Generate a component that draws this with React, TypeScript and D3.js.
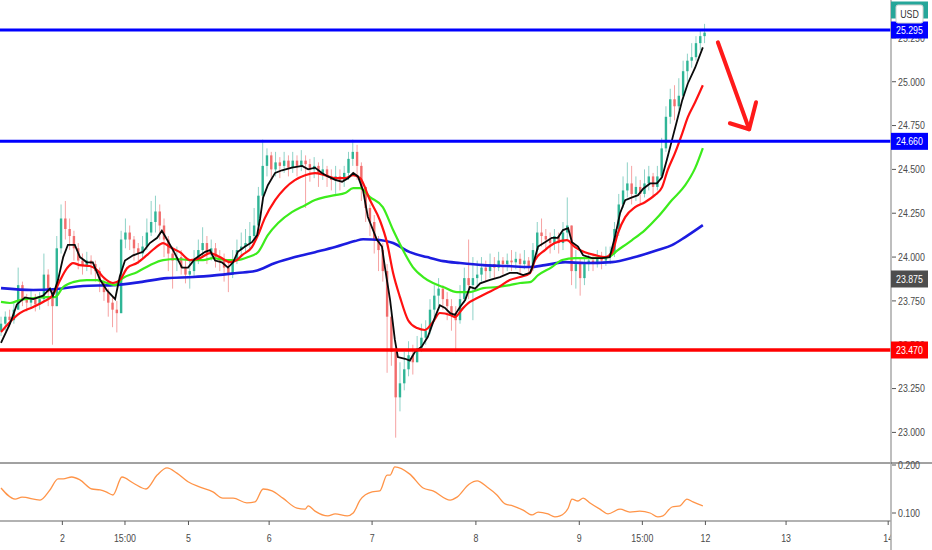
import React from "react";
import * as d3 from "d3";

// ---------- DATA ----------
const firstOpen = 23.58;
const closes = [
  23.62, 23.66, 23.64, 23.70, 23.84, 23.76, 23.74, 23.77, 23.73, 23.76,
  23.90, 23.80, 23.72, 24.05, 24.22, 24.16, 24.12, 24.05, 23.98, 23.95,
  23.98, 23.96, 23.92, 23.86, 23.80, 23.74, 23.70, 23.68, 24.10, 24.14,
  24.10, 24.05, 24.02, 24.06, 24.14, 24.20, 24.26, 24.18, 24.10, 24.02,
  23.98, 24.00, 23.94, 23.90, 23.92, 23.98, 24.04, 24.08, 24.02, 24.05,
  24.00, 23.98, 23.94, 23.90, 23.98, 24.04, 24.06, 24.08, 24.12, 24.18,
  24.35, 24.52, 24.58, 24.50, 24.54, 24.52, 24.55, 24.51, 24.55, 24.52,
  24.55, 24.53, 24.50, 24.52, 24.48, 24.50, 24.46, 24.44, 24.46, 24.44,
  24.48, 24.56, 24.60, 24.52, 24.40, 24.28, 24.20, 24.10, 24.04, 23.92,
  23.66, 23.46, 23.20, 23.28, 23.36, 23.44, 23.40, 23.48, 23.54, 23.58,
  23.70, 23.78, 23.82, 23.76, 23.72, 23.68, 23.64, 23.76, 23.88, 23.84,
  23.88, 23.90, 23.94, 23.92, 23.96, 23.94, 23.98, 23.96, 23.98, 23.97,
  23.99, 23.96, 23.98, 23.94, 24.04, 24.14, 24.12, 24.10, 24.08, 24.12,
  24.08, 24.14, 24.18, 23.92, 23.96, 23.88, 23.96, 23.98, 23.96, 24.00,
  23.98, 24.00, 24.02, 24.16, 24.30, 24.38, 24.42, 24.36, 24.40, 24.36,
  24.42, 24.46, 24.40, 24.46, 24.62, 24.80, 24.90, 24.86, 24.92, 25.06,
  25.12, 25.14, 25.22, 25.26, 25.28,
];
const highs = [
  23.66, 23.69, 23.70, 23.74, 23.94, 23.86, 23.79, 23.81, 23.79, 23.80,
  24.02, 23.93, 23.82, 24.12, 24.30, 24.32, 24.22, 24.15, 24.08, 24.02,
  24.03, 24.01, 23.98, 23.94, 23.88, 23.82, 23.78, 23.75, 24.15, 24.22,
  24.18, 24.12, 24.08, 24.12, 24.22, 24.32, 24.35, 24.30, 24.22, 24.12,
  24.06, 24.06, 24.04, 23.98, 23.98, 24.04, 24.10, 24.17, 24.12, 24.10,
  24.08, 24.04, 24.02, 23.98, 24.04, 24.10, 24.14, 24.16, 24.20, 24.28,
  24.40, 24.67, 24.62, 24.60, 24.60, 24.57, 24.60, 24.58, 24.60, 24.58,
  24.61, 24.58, 24.56, 24.57, 24.54, 24.56, 24.52, 24.50, 24.52, 24.50,
  24.52, 24.60, 24.67, 24.64, 24.54, 24.40, 24.30, 24.24, 24.12, 24.08,
  23.96, 23.68, 23.48, 23.40, 23.46, 23.52, 23.50, 23.55, 23.62, 23.64,
  23.76, 23.84, 23.88, 23.84, 23.80, 23.76, 23.72, 23.84, 23.94, 24.10,
  24.00, 23.98, 24.00, 23.98, 24.02, 24.00, 24.03, 24.00, 24.02, 24.04,
  24.03, 24.02, 24.04, 24.00, 24.08, 24.20, 24.22, 24.16, 24.14, 24.16,
  24.14, 24.20, 24.34, 24.18, 24.04, 24.00, 24.00, 24.02, 24.01, 24.04,
  24.03, 24.06, 24.06, 24.20, 24.36, 24.46, 24.54, 24.52, 24.46, 24.44,
  24.50, 24.52, 24.48, 24.52, 24.68, 24.86, 24.96, 24.98, 25.02, 25.12,
  25.16, 25.22, 25.26, 25.30, 25.33,
];
const lows = [
  23.55, 23.58, 23.60, 23.62, 23.70, 23.72, 23.69, 23.71, 23.69, 23.70,
  23.74, 23.72, 23.50, 23.72, 24.02, 24.10, 24.04, 23.98, 23.93, 23.90,
  23.92, 23.90, 23.86, 23.80, 23.75, 23.66, 23.60, 23.57, 23.68, 24.05,
  24.04, 23.98, 23.96, 23.99, 24.04, 24.12, 24.14, 24.10, 24.00, 23.92,
  23.82, 23.92, 23.90, 23.85, 23.82, 23.88, 23.96, 24.00, 23.96, 23.98,
  23.94, 23.92, 23.86, 23.80, 23.88, 23.96, 24.00, 24.02, 24.04, 24.08,
  24.16, 24.30, 24.46, 24.44, 24.46, 24.45, 24.48, 24.46, 24.48, 24.46,
  24.49, 24.28, 24.43, 24.45, 24.40, 24.44, 24.40, 24.38, 24.36, 24.38,
  24.40, 24.44, 24.52, 24.44, 24.32, 24.20, 24.12, 24.02, 23.92, 23.86,
  23.34, 23.38, 22.97, 23.12, 23.24, 23.32, 23.33, 23.40, 23.46, 23.50,
  23.56, 23.66, 23.72, 23.70, 23.64, 23.58, 23.46, 23.62, 23.74, 23.76,
  23.64, 23.82, 23.86, 23.86, 23.88, 23.88, 23.92, 23.90, 23.92, 23.92,
  23.93, 23.90, 23.93, 23.90, 23.92, 24.00, 24.06, 24.04, 24.02, 24.04,
  24.02, 24.04, 24.10, 23.84, 23.82, 23.78, 23.84, 23.92, 23.92, 23.94,
  23.93, 23.95, 23.96, 24.00, 24.12, 24.28, 24.34, 24.30, 24.32, 24.30,
  24.34, 24.38, 24.34, 24.38, 24.44, 24.60, 24.76, 24.78, 24.84, 24.90,
  25.00, 25.08, 25.12, 25.18, 25.22,
];

// moving averages as [bar index, value]
const fastMA: [number, number][] = [
  [0, 23.51], [2.1, 23.62], [3.7, 23.73], [5.6, 23.77], [7.5, 23.76], [9.8, 23.78], [11.4, 23.82], [12.1, 23.78],
  [13.3, 23.87], [14.5, 24.0], [15.6, 24.07], [17.2, 24.07], [18.4, 24.0], [20.0, 23.97], [21.4, 23.97], [23.1, 23.87],
  [24.7, 23.81], [26.6, 23.76], [27.7, 23.89], [28.9, 23.98], [30.8, 24.01], [33.1, 24.03], [34.7, 24.08], [36.4, 24.11],
  [37.5, 24.15], [38.7, 24.1], [40.1, 24.04], [42.2, 23.94], [43.6, 23.94], [45.2, 23.99], [47.6, 24.03], [48.7, 24.04],
  [49.9, 23.98], [51.5, 23.97], [52.9, 23.94], [54.1, 23.97], [55.2, 24.03], [56.9, 24.06], [58.5, 24.085], [59.7, 24.125],
  [60.4, 24.22], [61.1, 24.34], [62.2, 24.41], [63.9, 24.48], [65.5, 24.495], [67.8, 24.51], [70.2, 24.52], [71.6, 24.5],
  [73.2, 24.51], [74.8, 24.48], [76.2, 24.46], [77.9, 24.44], [79.5, 24.43], [80.9, 24.45], [82.1, 24.48], [83.2, 24.46],
  [84.4, 24.38], [85.5, 24.23], [87.6, 24.1], [88.8, 24.06], [89.5, 23.94], [90.7, 23.755], [91.8, 23.53], [92.5, 23.43],
  [94.2, 23.42], [95.3, 23.41], [96.5, 23.46], [98.1, 23.49], [99.5, 23.545], [101.2, 23.66], [102.3, 23.725], [103.5, 23.71],
  [104.7, 23.68], [105.8, 23.67], [107.0, 23.715], [108.2, 23.755], [109.3, 23.83], [110.5, 23.82], [111.7, 23.85], [114.0, 23.87],
  [116.3, 23.886], [118.6, 23.91], [120.3, 23.91], [121.7, 23.897], [123.3, 23.91], [123.8, 23.94], [125.2, 24.06], [126.8, 24.085],
  [128.4, 24.11], [129.8, 24.11], [131.0, 24.154], [132.2, 24.165], [133.1, 24.085], [134.5, 24.06], [135.7, 24.01], [137.8, 23.994],
  [140.1, 23.994], [141.9, 24.0], [143.1, 24.114], [144.3, 24.25], [145.5, 24.325], [147.1, 24.34], [148.5, 24.353], [149.7, 24.39],
  [151.3, 24.42], [152.9, 24.42], [154.1, 24.456], [155.2, 24.553], [156.4, 24.667], [157.6, 24.78], [158.8, 24.895], [160.1, 24.99],
  [161.8, 25.08], [163.6, 25.196],
];
const midMA: [number, number][] = [
  [0, 23.573], [2.1, 23.63], [4.4, 23.68], [7.5, 23.715], [9.8, 23.744], [12.1, 23.783], [13.8, 23.869], [15.4, 23.937],
  [16.8, 23.966], [18.4, 23.954], [20.7, 23.949], [22.4, 23.926], [23.8, 23.886], [26.1, 23.852], [27.7, 23.869], [29.4, 23.937],
  [31.7, 23.966], [34.0, 24.011], [35.9, 24.051], [37.8, 24.08], [39.4, 24.057], [41.7, 24.028], [44.1, 23.983], [46.4, 23.994],
  [48.7, 24.023], [51.0, 24.0], [53.4, 23.971], [55.0, 23.983], [56.2, 24.011], [58.5, 24.057], [59.9, 24.125], [61.5, 24.222],
  [63.9, 24.325], [66.2, 24.393], [68.5, 24.439], [70.9, 24.467], [73.2, 24.479], [75.5, 24.467], [77.9, 24.45], [80.2, 24.45],
  [82.1, 24.467], [83.7, 24.45], [86.0, 24.325], [88.3, 24.211], [90.0, 24.08], [91.4, 23.909], [93.0, 23.772], [94.9, 23.64],
  [97.0, 23.595], [98.8, 23.584], [100.7, 23.63], [102.3, 23.681], [104.7, 23.67], [105.8, 23.658], [107.7, 23.709], [109.3, 23.744],
  [111.0, 23.766], [113.3, 23.795], [115.6, 23.823], [118.6, 23.869], [121.0, 23.886], [123.3, 23.909], [124.5, 23.983], [126.8, 24.04],
  [129.1, 24.08], [131.9, 24.097], [133.8, 24.057], [136.1, 24.028], [138.5, 24.011], [140.8, 24.0], [142.4, 24.023], [143.8, 24.137],
  [145.5, 24.228], [147.8, 24.285], [150.1, 24.313], [152.4, 24.353], [154.1, 24.399], [155.4, 24.496], [157.1, 24.593], [158.8, 24.706],
  [160.1, 24.798], [161.8, 24.883], [163.6, 24.98],
];
const slowMA: [number, number][] = [
  [0, 23.744], [2.1, 23.738], [4.4, 23.755], [7.5, 23.766], [10.7, 23.772], [12.6, 23.772], [14.5, 23.829], [16.8, 23.857],
  [20.0, 23.869], [22.4, 23.869], [24.7, 23.852], [26.6, 23.84], [28.4, 23.88], [31.7, 23.914], [34.7, 23.954], [37.8, 23.983],
  [41.0, 23.989], [44.1, 23.983], [47.1, 23.983], [49.4, 23.994], [52.7, 23.983], [55.0, 23.983], [57.6, 24.0], [59.9, 24.028],
  [62.2, 24.125], [64.6, 24.194], [67.8, 24.256], [70.9, 24.296], [73.2, 24.325], [75.5, 24.342], [77.9, 24.353], [80.2, 24.365],
  [82.1, 24.393], [83.7, 24.393], [86.0, 24.342], [89.0, 24.285], [91.4, 24.154], [93.7, 24.04], [96.0, 23.943], [98.4, 23.886],
  [100.7, 23.852], [103.1, 23.829], [106.3, 23.8], [109.3, 23.8], [112.4, 23.823], [115.6, 23.829], [118.6, 23.84], [121.0, 23.852],
  [123.3, 23.857], [125.2, 23.897], [128.4, 23.943], [130.8, 23.983], [133.8, 23.994], [137.8, 23.994], [141.5, 24.0], [143.8, 24.04],
  [147.1, 24.097], [150.1, 24.154], [153.1, 24.228], [156.4, 24.325], [159.5, 24.41], [161.8, 24.507], [163.6, 24.621],
];
const longMA: [number, number][] = [
  [0, 23.823], [7.5, 23.812], [13.1, 23.818], [19.1, 23.835], [26.1, 23.84], [32.4, 23.857], [38.7, 23.88], [44.8, 23.886],
  [50.3, 23.897], [55.0, 23.909], [59.2, 23.92], [63.9, 23.966], [68.5, 24.0], [73.2, 24.028], [77.9, 24.057], [82.5, 24.091],
  [84.4, 24.102], [88.3, 24.097], [91.4, 24.08], [95.3, 24.028], [99.3, 24.0], [103.1, 23.977], [107.0, 23.966], [112.4, 23.954],
  [117.9, 23.949], [123.3, 23.943], [126.8, 23.954], [131.5, 23.971], [136.1, 23.966], [142.4, 23.971], [147.8, 24.0], [153.1, 24.04],
  [156.4, 24.068], [159.5, 24.114], [163.6, 24.182],
];
const indicator: [number, number][] = [
  [0, 0.152], [3.3, 0.129], [4.9, 0.133], [9.1, 0.127], [11.4, 0.148], [13.3, 0.171], [14.5, 0.171], [16.5, 0.175],
  [18.4, 0.169], [21.2, 0.15], [23.1, 0.148], [24.5, 0.144], [26.1, 0.1375], [28.2, 0.175], [30.8, 0.1625], [33.8, 0.15],
  [36.4, 0.179], [38.7, 0.194], [41.0, 0.183], [43.6, 0.165], [46.4, 0.154], [49.4, 0.144], [51.7, 0.131], [54.1, 0.131],
  [57.3, 0.121], [59.2, 0.123], [61.1, 0.15], [63.2, 0.146], [65.7, 0.131], [69.0, 0.11], [70.9, 0.108], [71.6, 0.115],
  [73.2, 0.104], [76.2, 0.094], [77.9, 0.098], [80.7, 0.094], [82.1, 0.1], [83.7, 0.127], [86.5, 0.144], [88.3, 0.146],
  [90.0, 0.179], [90.7, 0.179], [91.8, 0.196], [95.3, 0.181], [98.4, 0.152], [100.7, 0.146], [104.7, 0.127], [106.3, 0.133],
  [109.1, 0.16], [111.0, 0.167], [113.3, 0.154], [115.6, 0.1375], [117.5, 0.119], [119.3, 0.115], [121.7, 0.106], [123.8, 0.096],
  [125.2, 0.102], [127.5, 0.098], [129.1, 0.092], [130.3, 0.094], [132.2, 0.11], [133.1, 0.129], [134.5, 0.125], [135.7, 0.131],
  [137.3, 0.121], [139.6, 0.108], [141.5, 0.098], [144.3, 0.108], [146.6, 0.102], [148.9, 0.104], [151.3, 0.1], [153.1, 0.092],
  [154.3, 0.094], [156.4, 0.1125], [158.3, 0.115], [159.9, 0.129], [161.3, 0.123], [163.6, 0.115],
];

const timeTicks = [14.3, 28.9, 43.7, 62.5, 86.5, 110.7, 134.8, 149.5, 164.2, 183.0, 206.8];
const timeLabels = ["2", "15:00", "5", "6", "7", "8", "9", "15:00", "12", "13", "14"];
const priceTicks = [23.0, 23.25, 23.5, 23.75, 24.0, 24.25, 24.5, 24.75, 25.0, 25.25];
const indicatorTicks = [0.1, 0.2];
const resistanceTop = 25.295;
const resistanceMid = 24.66;
const supportLevel = 23.47;
const markerLevel = 23.875;
const currency = "USD";
const arrowShaft: [number, number][] = [[167.1, 25.225], [174.4, 24.729]];
const arrowHead: [number, number][] = [[169.9, 24.763], [174.4, 24.729], [176.0, 24.883]];

// ---------- LAYOUT ----------
const W = 932;
const H = 550;
const axisX = 891;
const paneBottom = 463;
const indBottom = 521;
const FONT = "'Liberation Sans', Arial, sans-serif";

function NText(props: {
  x: number;
  y: number;
  children: React.ReactNode;
  anchor?: "start" | "middle" | "end";
  fill?: string;
  size?: number;
}) {
  const { x, y, children, anchor = "start", fill = "#4a4a4a", size = 11 } = props;
  return (
    <text
      transform={`translate(${x},${y}) scale(0.8,1)`}
      textAnchor={anchor}
      dominantBaseline="central"
      fontSize={size}
      fontFamily={FONT}
      fill={fill}
    >
      {children}
    </text>
  );
}

export default function App() {
  const x = d3.scaleLinear().domain([0, 207]).range([1, 1 + 207 * 4.29]);
  const y = d3.scaleLinear().domain([supportLevel, resistanceTop]).range([350, 30]);
  const yi = d3.scaleLinear().domain([0.1, 0.2]).range([513, 465]);

  const lineSmooth = d3
    .line<[number, number]>()
    .x((d) => x(d[0]))
    .y((d) => y(d[1]))
    .curve(d3.curveMonotoneX);
  const lineRaw = d3
    .line<[number, number]>()
    .x((d) => x(d[0]))
    .y((d) => y(d[1]));
  const lineInd = d3
    .line<[number, number]>()
    .x((d) => x(d[0]))
    .y((d) => yi(d[1]))
    .curve(d3.curveMonotoneX);

  const bodyW = 2.4;
  const candles = closes.map((c, i) => {
    const o = i === 0 ? firstOpen : closes[i - 1];
    const h = Math.max(highs[i], o, c);
    const l = Math.min(lows[i], o, c);
    const up = c >= o;
    const cx = x(i);
    const top = y(Math.max(o, c));
    const bot = y(Math.min(o, c));
    return (
      <g key={i}>
        <line
          x1={cx}
          x2={cx}
          y1={y(h)}
          y2={y(l)}
          stroke={up ? "#8ed2c7" : "#f6a3a3"}
          strokeWidth={1}
        />
        <rect
          x={cx - bodyW / 2}
          y={top}
          width={bodyW}
          height={Math.max(1, bot - top)}
          fill={up ? "#2fb596" : "#f26c6c"}
        />
      </g>
    );
  });

  const levelBox = (val: number, yy: number, fill: string, key: string) => (
    <g key={key}>
      <rect x={axisX} y={yy - 8.5} width={37} height={17} fill={fill} />
      <NText x={axisX + 5} y={yy} fill="#ffffff">
        {val.toFixed(3)}
      </NText>
    </g>
  );

  const lastClose = closes[closes.length - 1];

  return (
    <div style={{ width: W, height: H }}>
      <style>{`body{margin:0;background:#fff}`}</style>
      <svg width={W} height={H} style={{ display: "block" }}>
        <rect x={0} y={0} width={W} height={H} fill="#ffffff" />
        <defs>
          <clipPath id="mainClip">
            <rect x={0} y={0} width={axisX} height={paneBottom} />
          </clipPath>
          <clipPath id="indClip">
            <rect x={0} y={paneBottom} width={axisX} height={indBottom - paneBottom} />
          </clipPath>
        </defs>

        <g clipPath="url(#mainClip)">
          {candles}
          <path d={lineSmooth(longMA) || ""} fill="none" stroke="#1c1ce0" strokeWidth={2.6} />
          <path d={lineSmooth(slowMA) || ""} fill="none" stroke="#3cec1c" strokeWidth={2.2} />
          <path d={lineSmooth(midMA) || ""} fill="none" stroke="#ff1111" strokeWidth={2.2} />
          <path d={lineRaw(fastMA) || ""} fill="none" stroke="#0a0a0a" strokeWidth={1.8} />

          <line x1={0} x2={axisX} y1={y(resistanceTop)} y2={y(resistanceTop)} stroke="#0000ff" strokeWidth={3} />
          <line x1={0} x2={axisX} y1={y(resistanceMid)} y2={y(resistanceMid)} stroke="#0000ff" strokeWidth={3} />
          <line x1={0} x2={axisX} y1={y(supportLevel)} y2={y(supportLevel)} stroke="#ff0000" strokeWidth={3.5} />

          <path
            d={lineRaw(arrowShaft) || ""}
            fill="none"
            stroke="#ff1a1a"
            strokeWidth={4}
            strokeLinecap="round"
          />
          <path
            d={lineRaw(arrowHead) || ""}
            fill="none"
            stroke="#ff1a1a"
            strokeWidth={4}
            strokeLinecap="round"
            strokeLinejoin="round"
          />
        </g>

        {/* indicator pane */}
        <g clipPath="url(#indClip)">
          <path d={lineInd(indicator) || ""} fill="none" stroke="#ff9448" strokeWidth={1.3} />
        </g>
        <line x1={0} x2={W} y1={paneBottom} y2={paneBottom} stroke="#444" strokeWidth={1} />
        <line x1={0} x2={axisX} y1={indBottom} y2={indBottom} stroke="#666" strokeWidth={1.2} />

        {/* time axis */}
        {timeTicks.map((t, i) => (
          <g key={"t" + i}>
            <line x1={x(t)} x2={x(t)} y1={indBottom} y2={indBottom + 4} stroke="#555" />
            <NText x={x(t)} y={538} anchor="middle">
              {timeLabels[i]}
            </NText>
          </g>
        ))}

        {/* right axis panel */}
        <rect x={axisX} y={0} width={W - axisX} height={H} fill="#ffffff" />
        <line x1={axisX} x2={axisX} y1={0} y2={H} stroke="#a8a8a8" strokeWidth={1.5} />
        <line x1={axisX} x2={W} y1={paneBottom} y2={paneBottom} stroke="#444" strokeWidth={1} />
        {priceTicks.map((p) => (
          <g key={"p" + p}>
            <line x1={axisX + 1} x2={axisX + 5} y1={y(p)} y2={y(p)} stroke="#555" />
            <NText x={axisX + 7} y={y(p)}>
              {p.toFixed(3)}
            </NText>
          </g>
        ))}
        {indicatorTicks.map((v) => (
          <g key={"i" + v}>
            <line x1={axisX + 1} x2={axisX + 5} y1={yi(v)} y2={yi(v)} stroke="#555" />
            <NText x={axisX + 7} y={yi(v)}>
              {v.toFixed(3)}
            </NText>
          </g>
        ))}

        {levelBox(lastClose, y(resistanceTop) - 20, "#26a69a", "last")}
        {levelBox(resistanceTop, y(resistanceTop), "#0000ff", "r1")}
        {levelBox(resistanceMid, y(resistanceMid), "#0000ff", "r2")}
        {levelBox(markerLevel, y(markerLevel), "#4d4d4d", "m")}
        {levelBox(supportLevel, y(supportLevel), "#ff0000", "s")}

        {/* currency badge */}
        <rect x={896} y={5} width={27} height={18} rx={2} fill="#ffffff" stroke="#d0d0d0" />
        <NText x={909.5} y={14} anchor="middle" fill="#333">
          {currency}
        </NText>
      </svg>
    </div>
  );
}
